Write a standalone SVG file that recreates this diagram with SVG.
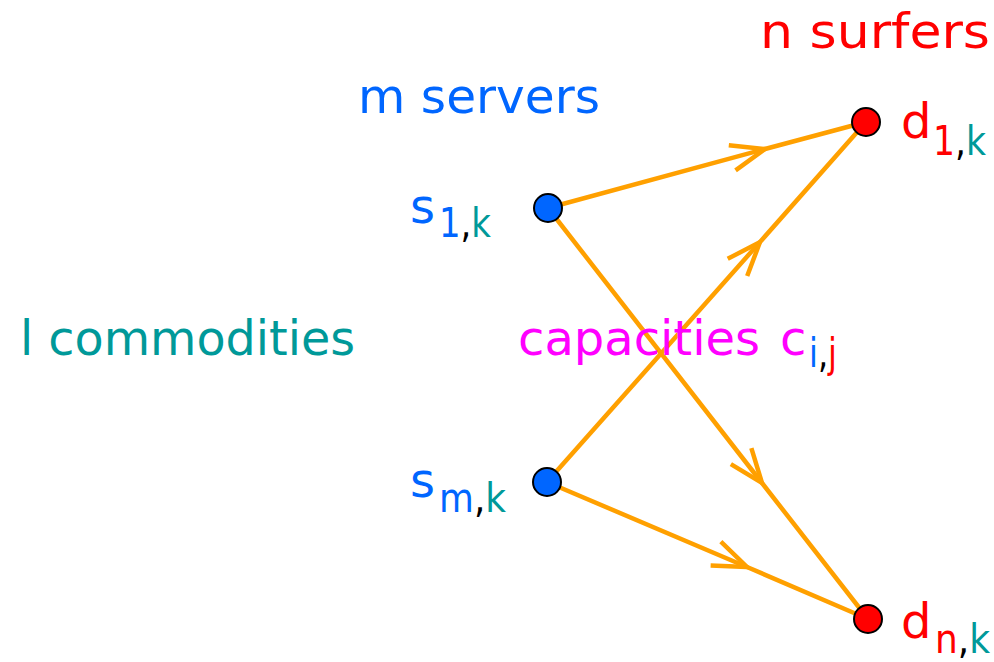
<svg xmlns="http://www.w3.org/2000/svg" width="994" height="662" viewBox="0 0 994 662">
<style>
text{font-family:"DejaVu Sans","Noto Sans",sans-serif;}
.big{font-size:48px;}
.sub{font-size:40px;}
.blue{fill:#0066ff;}
.red{fill:#ff0000;}
.teal{fill:#009999;}
.mag{fill:#ff00ff;}
.blk{fill:#000000;}
.edge{fill:none;stroke:#ffa000;stroke-width:4.5;stroke-linecap:round;marker-mid:url(#arr);}
.node{stroke:#000;stroke-width:2;}
</style>
<defs>
<marker id="arr" markerUnits="userSpaceOnUse" markerWidth="80" markerHeight="80" refX="0" refY="0" viewBox="-40 -40 80 80" orient="auto" overflow="visible">
<path d="M-34,-13 L0,0 L-34,13" fill="none" stroke="#ffa000" stroke-width="4.5" stroke-linecap="butt"/>
</marker>
</defs>
<rect width="994" height="662" fill="#ffffff"/>
<g id="connectors">
<path class="edge" d="M548,208 L765,149 L866,122"/>
<path class="edge" d="M547,482 L760,242 L866,122"/>
<path class="edge" d="M548,208 L762,483 L868,619"/>
<path class="edge" d="M547,482 L747,567 L868,619"/>
</g>
<g id="label-surfers"><text class="big red" x="760" y="48" textLength="230" lengthAdjust="spacingAndGlyphs">n surfers</text></g>
<g id="label-servers"><text class="big blue" x="358" y="113" textLength="242" lengthAdjust="spacingAndGlyphs">m servers</text></g>
<g id="label-commodities"><text class="big teal" x="20" y="355" textLength="335" lengthAdjust="spacingAndGlyphs">l commodities</text></g>
<g id="label-capacities"><text class="big mag" x="518" y="355" textLength="242" lengthAdjust="spacingAndGlyphs">capacities</text><text class="big mag" x="780" y="355">c</text><text class="sub" x="809" y="367" textLength="28" lengthAdjust="spacingAndGlyphs"><tspan class="blue">i</tspan><tspan class="blk">,</tspan><tspan class="red">j</tspan></text></g>
<g id="s1">
<circle class="node" cx="548" cy="208" r="14" fill="#0066ff"/>
<text class="big blue" x="410" y="223">s</text>
<text class="sub" x="439" y="237" textLength="52" lengthAdjust="spacingAndGlyphs"><tspan class="blue">1</tspan><tspan class="blk">,</tspan><tspan class="teal">k</tspan></text>
</g>
<g id="sm">
<circle class="node" cx="547" cy="482" r="14" fill="#0066ff"/>
<text class="big blue" x="410" y="497">s</text>
<text class="sub" x="439" y="512" textLength="67" lengthAdjust="spacingAndGlyphs"><tspan class="blue">m</tspan><tspan class="blk">,</tspan><tspan class="teal">k</tspan></text>
</g>
<g id="d1">
<circle class="node" cx="866" cy="122" r="14" fill="#ff0000"/>
<text class="big red" x="901" y="138">d</text>
<text class="sub" x="933" y="155" textLength="53" lengthAdjust="spacingAndGlyphs"><tspan class="red">1</tspan><tspan class="blk">,</tspan><tspan class="teal">k</tspan></text>
</g>
<g id="dn">
<circle class="node" cx="868" cy="619" r="14" fill="#ff0000"/>
<text class="big red" x="901" y="638">d</text>
<text class="sub" x="935" y="653" textLength="55" lengthAdjust="spacingAndGlyphs"><tspan class="red">n</tspan><tspan class="blk">,</tspan><tspan class="teal">k</tspan></text>
</g>
</svg>
